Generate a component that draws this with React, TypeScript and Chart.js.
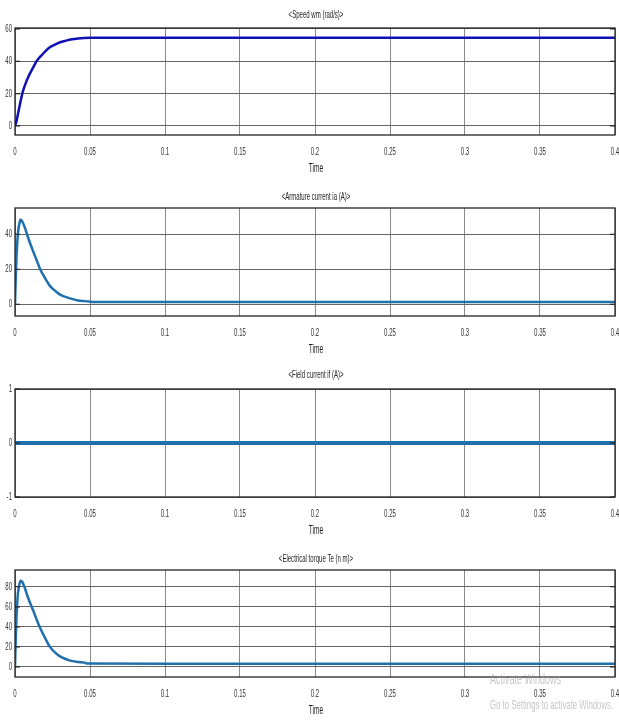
import React, { useEffect, useRef } from 'react';
import { Chart, registerables } from 'chart.js';
Chart.register(...registerables);

const FONT = "'Liberation Sans', Arial, sans-serif";
const SX = 0.55;

// ---- data ----
const xTickValues = [0, 0.05, 0.1, 0.15, 0.2, 0.25, 0.3, 0.35, 0.4];
const xTickLabels = ['0', '0.05', '0.1', '0.15', '0.2', '0.25', '0.3', '0.35', '0.4'];

const speedTime = [0, 0.001, 0.002, 0.003, 0.004, 0.005, 0.006, 0.008, 0.01, 0.012, 0.014, 0.016, 0.018, 0.02, 0.023, 0.026, 0.03, 0.034, 0.038, 0.042, 0.046, 0.05, 0.1, 0.2, 0.3, 0.4];
const speedValues = [0, 3, 7.5, 12, 16.5, 20.5, 23.5, 28.5, 32.5, 36, 39.5, 42, 44, 46, 48.5, 50, 51.8, 52.8, 53.6, 54.1, 54.4, 54.5, 54.5, 54.5, 54.5, 54.5];
const speedTicks = [0, 20, 40, 60];

const currentTime = [0, 0.0005, 0.001, 0.0015, 0.002, 0.003, 0.0038, 0.005, 0.0065, 0.008, 0.01, 0.0122, 0.0145, 0.0167, 0.02, 0.0233, 0.027, 0.03, 0.0367, 0.042, 0.047, 0.053, 0.1, 0.2, 0.3, 0.4];
const currentValues = [0, 15, 27, 35, 41, 46.5, 48.5, 47, 44, 40, 35, 30, 25, 20.2, 15, 10.5, 7.5, 5.5, 3.4, 2.2, 1.8, 1.3, 1.3, 1.3, 1.3, 1.3];
const currentTicks = [0, 20, 40];

const fieldTime = [0, 0.1, 0.2, 0.3, 0.4];
const fieldValues = [0, 0, 0, 0, 0];
const fieldTicks = [-1, 0, 1];

const torqueTime = [0, 0.0005, 0.001, 0.0015, 0.002, 0.003, 0.0038, 0.005, 0.0065, 0.008, 0.01, 0.0122, 0.0145, 0.0167, 0.02, 0.0233, 0.027, 0.03, 0.0367, 0.042, 0.0467, 0.048, 0.1, 0.2, 0.3, 0.4];
const torqueValues = [0, 28, 50, 64, 74, 83, 86, 84.5, 79, 72, 64, 56, 47, 39, 29, 20, 14, 10.5, 6.3, 5, 4.3, 3.4, 3.3, 3.3, 3.3, 3.3];
const torqueTicks = [0, 20, 40, 60, 80];

const WIDTH = 619;

type PanelProps = {
  title: string;
  times: number[];
  values: number[];
  ticks: number[];
  yMin: number;
  yMax: number;
  color: string;
  lineWidth: number;
  top: number;
  height: number;
  areaTop: number;
  areaBottom: number;
  titleY: number;
  watermark?: boolean;
};

function squeezed(ctx: CanvasRenderingContext2D, text: string, x: number, y: number, align: CanvasTextAlign, size: number, sx: number, color: string) {
  ctx.save();
  ctx.translate(x, y);
  ctx.scale(sx, 1);
  ctx.font = size + 'px ' + FONT;
  ctx.fillStyle = color;
  ctx.textAlign = align;
  ctx.textBaseline = 'middle';
  ctx.fillText(text, 0, 0);
  ctx.restore();
}

function Panel(p: PanelProps) {
  const ref = useRef<HTMLCanvasElement | null>(null);
  useEffect(() => {
    const canvas = ref.current;
    if (!canvas) return;
    const decor = {
      id: 'decor',
      afterDraw(chart: any) {
        const ctx = chart.ctx as CanvasRenderingContext2D;
        const a = chart.chartArea;
        const xs = chart.scales.x;
        const ys = chart.scales.y;
        ctx.save();
        ctx.strokeStyle = '#222';
        ctx.lineWidth = 1.3;
        ctx.strokeRect(a.left, a.top, a.right - a.left, a.bottom - a.top);
        ctx.lineWidth = 1.2;
        p.ticks.forEach((v) => {
          const y = ys.getPixelForValue(v);
          ctx.beginPath();
          ctx.moveTo(a.right - 5, y);
          ctx.lineTo(a.right, y);
          ctx.moveTo(a.left, y);
          ctx.lineTo(a.left + 5, y);
          ctx.stroke();
        });
        ctx.restore();
        // tick labels
        xTickValues.forEach((v, i) => {
          squeezed(ctx, xTickLabels[i], xs.getPixelForValue(v), a.bottom + 17, 'center', 11, SX, '#333');
        });
        p.ticks.forEach((v) => {
          squeezed(ctx, String(v), 12, ys.getPixelForValue(v), 'right', 11, SX, '#333');
        });
        const cx = (a.left + a.right) / 2 + 1;
        squeezed(ctx, p.title, cx, p.titleY, 'center', 11, SX, '#222');
        squeezed(ctx, 'Time', cx, a.bottom + 34, 'center', 12, SX, '#222');
        if (p.watermark) {
          squeezed(ctx, 'Activate Windows', 490, a.bottom + 3, 'left', 15, 0.6, 'rgba(160,160,160,0.6)');
          squeezed(ctx, 'Go to Settings to activate Windows.', 490, a.bottom + 28, 'left', 13, 0.6, 'rgba(160,160,160,0.6)');
        }
      },
    };
    const chart = new Chart(canvas, {
      type: 'line',
      data: {
        datasets: [
          {
            data: p.times.map((t, i) => ({ x: t, y: p.values[i] })),
            borderColor: p.color,
            borderWidth: p.lineWidth,
            pointRadius: 0,
            cubicInterpolationMode: 'monotone',
            fill: false,
          },
        ],
      },
      options: {
        animation: false,
        responsive: false,
        maintainAspectRatio: false,
        layout: { padding: { top: p.areaTop, left: 0, right: 4, bottom: 0 } },
        plugins: {
          legend: { display: false },
          title: { display: false },
          tooltip: { enabled: false },
        },
        scales: {
          x: {
            type: 'linear',
            min: 0,
            max: 0.4,
            afterBuildTicks: (s: any) => {
              s.ticks = xTickValues.map((v) => ({ value: v }));
            },
            afterFit: (s: any) => {
              s.height = p.height - p.areaBottom;
              s.paddingLeft = 0;
              s.paddingRight = 0;
            },
            ticks: { display: false },
            grid: { color: '#8a8a8a', lineWidth: 1, drawTicks: false },
            border: { display: false },
          },
          y: {
            type: 'linear',
            min: p.yMin,
            max: p.yMax,
            afterBuildTicks: (s: any) => {
              s.ticks = p.ticks.map((v) => ({ value: v }));
            },
            afterFit: (s: any) => {
              s.width = 15;
              s.paddingTop = 0;
              s.paddingBottom = 0;
            },
            ticks: { display: false },
            grid: { color: '#666', lineWidth: 1, drawTicks: false },
            border: { display: false },
          },
        },
      } as any,
      plugins: [decor],
    });
    return () => chart.destroy();
  }, []);
  return (
    <canvas
      ref={ref}
      width={WIDTH}
      height={p.height}
      style={{ position: 'absolute', left: 0, top: p.top, width: WIDTH, height: p.height, display: 'block' }}
    />
  );
}

export default function App() {
  return (
    <div style={{ position: 'absolute', left: 0, top: 0, width: WIDTH, height: 722, background: '#fff', overflow: 'hidden' }}>
      <Panel title="<Speed wm (rad/s)>" times={speedTime} values={speedValues} ticks={speedTicks}
        yMin={-5.6} yMax={60.6} color="#1010b4" lineWidth={2.5}
        top={0} height={180} areaTop={28} areaBottom={135} titleY={15} />
      <Panel title="<Armature current ia (A)>" times={currentTime} values={currentValues} ticks={currentTicks}
        yMin={-6.7} yMax={55} color="#1f70ad" lineWidth={2.5}
        top={180} height={180} areaTop={28} areaBottom={136} titleY={17} />
      <Panel title="<Field current if (A)>" times={fieldTime} values={fieldValues} ticks={fieldTicks}
        yMin={-1} yMax={1} color="#1f70ad" lineWidth={4}
        top={360} height={180} areaTop={29} areaBottom={137} titleY={15} />
      <Panel title="<Electrical torque Te (n m)>" times={torqueTime} values={torqueValues} ticks={torqueTicks}
        yMin={-10} yMax={96.7} color="#1f70ad" lineWidth={2.5}
        top={540} height={182} areaTop={30} areaBottom={137} titleY={19} watermark />
    </div>
  );
}
